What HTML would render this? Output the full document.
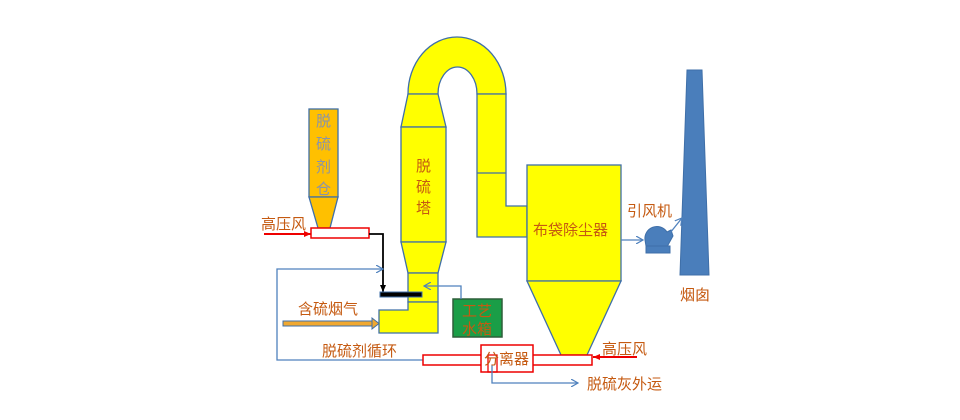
<!DOCTYPE html>
<html><head><meta charset="utf-8"><style>
html,body{margin:0;padding:0;background:#fff;}
svg{display:block;}
text{font-family:"Liberation Sans","Noto Sans CJK SC",sans-serif;font-size:15px;fill:#c55a11;}
</style></head><body>
<svg width="960" height="420" viewBox="0 0 960 420" xmlns="http://www.w3.org/2000/svg">
<defs>
<marker id="ab" markerWidth="8" markerHeight="8" refX="7" refY="4" orient="auto" markerUnits="userSpaceOnUse"><path d="M0,0 L7,4 L0,8" fill="none" stroke="#4f81bd" stroke-width="1.2"/></marker>
<marker id="ar" markerWidth="8" markerHeight="8" refX="7" refY="4" orient="auto" markerUnits="userSpaceOnUse"><path d="M0,1 L7,4 L0,7 Z" fill="#e00"/></marker>
<marker id="ak" markerWidth="8" markerHeight="8" refX="7" refY="4" orient="auto" markerUnits="userSpaceOnUse"><path d="M0,1 L7,4 L0,7 Z" fill="#000"/></marker>
</defs>
<g fill="#ffff00" stroke="#3f6fa8" stroke-width="1.3">
<!-- arch -->
<path d="M408,94 L408,94 A49,57 0 0 1 506,94 L477,94 A19.5,27 0 0 0 438,94 Z"/>
<!-- right duct -->
<path d="M477,94 L506,94 L506,206 L527,206 L527,237 L477,237 Z"/>
<line x1="477" y1="173" x2="506" y2="173"/>
<!-- tower -->
<path d="M408,94 L438,94 L446,127 L401,127 Z"/>
<rect x="401" y="127" width="45" height="115"/>
<path d="M401,242 L446,242 L438,273 L408,273 Z"/>
<rect x="408" y="273" width="30" height="29"/>
<path d="M408,302 L438,302 L438,333 L379,333 L379,310 L408,310 Z"/>
<!-- baghouse -->
<rect x="527" y="165" width="94" height="116"/>
<path d="M527,281 L621,281 L587,355 L561,355 Z"/>
</g>
<!-- silo -->
<g fill="#ffc000" stroke="#3f6fa8" stroke-width="1.3">
<rect x="309" y="109" width="29" height="88"/>
<path d="M309,197 L338,197 L330,228 L318,228 Z"/>
</g>
<!-- chimney -->
<path d="M687,70 L702,70 L709,275 L680,275 Z" fill="#4a7ebb" stroke="#3f6fa8"/>
<!-- fan -->
<g fill="#4a7ebb" stroke="#3f6fa8">
<path d="M645,240 A12,12 0 0 1 667,232 L671,230 L673,236 L668,245 L668,252 L647,252 Z"/>
<rect x="646" y="246" width="24" height="7"/>
</g>
<line x1="670" y1="233" x2="682" y2="218" stroke="#4f81bd" stroke-width="1.3" marker-end="url(#ab)"/>
<line x1="621" y1="240" x2="643" y2="240" stroke="#4f81bd" stroke-width="1.3" marker-end="url(#ab)"/>
<!-- water tank -->
<rect x="453" y="299" width="49" height="38" fill="#1a9e47" stroke="#2e5e3a" stroke-width="1.5"/>
<polyline points="461,299 461,286 424,286" fill="none" stroke="#4f81bd" stroke-width="1.3" marker-end="url(#ab)"/>
<!-- high pressure left -->
<rect x="311" y="228" width="58" height="10" fill="#fff" stroke="#e00" stroke-width="1.5"/>
<line x1="264" y1="234" x2="311" y2="234" stroke="#e00" stroke-width="2" marker-end="url(#ar)"/>
<polyline points="369,234 383,234 383,292" fill="none" stroke="#000" stroke-width="1.8" marker-end="url(#ak)"/>
<rect x="380" y="292" width="42" height="5" fill="#000" stroke="#3f6fa8"/>
<!-- recycle loop -->
<polyline points="423,360 277,360 277,269 383,269" fill="none" stroke="#4f81bd" stroke-width="1.3" marker-end="url(#ab)"/>
<!-- flue gas -->
<rect x="283" y="321" width="90" height="5" fill="#f0a830" stroke="#3f6fa8"/>
<path d="M372,318 L379,323.5 L372,329 Z" fill="#f0a830" stroke="#3f6fa8"/>
<!-- separator -->
<rect x="423" y="355" width="169" height="10" fill="#fff" stroke="#e00" stroke-width="1.5"/>
<rect x="481" y="345" width="52" height="27" fill="#fff" stroke="#e00" stroke-width="1.5"/>
<rect x="488" y="355" width="9" height="17" fill="none" stroke="#e00" stroke-width="1.3"/>
<polyline points="492,365 492,383 578,383" fill="none" stroke="#4f81bd" stroke-width="1.3" marker-end="url(#ab)"/>
<line x1="637" y1="357" x2="593" y2="357" stroke="#e00" stroke-width="2" marker-end="url(#ar)"/>
<!-- labels -->
<text x="316" y="126" fill="#7f8fa6" style="fill:#8a93a8">脱</text>
<text x="316" y="149" style="fill:#8a93a8">硫</text>
<text x="316" y="172" style="fill:#8a93a8">剂</text>
<text x="316" y="194" style="fill:#8a93a8">仓</text>
<text x="416" y="171">脱</text>
<text x="416" y="192">硫</text>
<text x="416" y="213">塔</text>
<text x="261" y="229">高压风</text>
<text x="298" y="314">含硫烟气</text>
<text x="322" y="356">脱硫剂循环</text>
<text x="462" y="316">工艺</text>
<text x="462" y="334">水箱</text>
<text x="484" y="364">分离器</text>
<text x="533" y="235">布袋除尘器</text>
<text x="627" y="216">引风机</text>
<text x="680" y="300">烟囱</text>
<text x="602" y="354">高压风</text>
<text x="587" y="389">脱硫灰外运</text>
</svg>
</body></html>
